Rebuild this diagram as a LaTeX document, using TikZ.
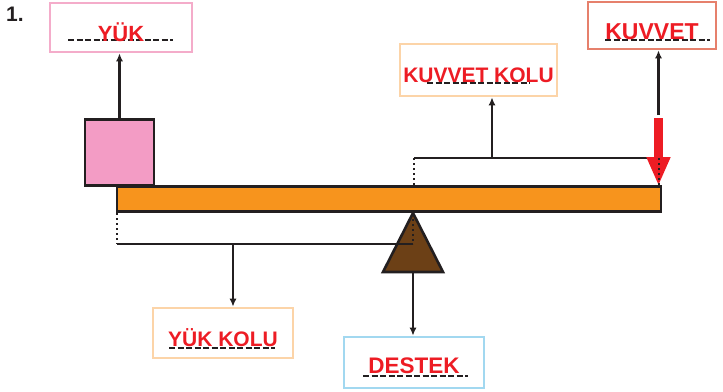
\documentclass[tikz,border=0pt]{standalone}
\usepackage{fontspec}
\setmainfont{Liberation Sans}
\definecolor{tagred}{RGB}{237, 28, 36}
\definecolor{inkblack}{RGB}{35, 31, 32}
\definecolor{borderpink}{RGB}{244, 172, 202}
\definecolor{borderpeach}{RGB}{252, 212, 168}
\definecolor{bordersalmon}{RGB}{230, 128, 108}
\definecolor{borderblue}{RGB}{162, 216, 240}
\definecolor{loadpink}{RGB}{243, 156, 197}
\definecolor{barorange}{RGB}{247, 148, 29}
\definecolor{fulcrumbrown}{RGB}{108, 64, 22}
\usetikzlibrary{arrows.meta, positioning}

\begin{document}
\begin{tikzpicture}[x=1pt, y=-1pt,
    tag/.style 2 args={draw, line width=2.6pt, text=tagred, font=\fontsize{#1}{#1}\selectfont\bfseries,
                text height=#2, text depth=0pt, inner sep=0pt},
    link/.style={inkblack, line width=2.6pt, -{Latex[length=8pt, width=7pt]}},
    rule/.style={inkblack, line width=2.6pt},
    dots/.style={inkblack, line width=2.6pt, dash pattern=on 2pt off 3pt},
    underdash/.style={inkblack, line width=1.8pt, dash pattern=on 6pt off 2.5pt}]
    \useasboundingbox (0,0) rectangle (723,391);

    % Number
    \node[font=\fontsize{21}{22}\selectfont\bfseries, text=inkblack] (num) at (15,14) {1.};

    % Label boxes
    \draw[underdash] (68,40) -- (173,40);
    \node[tag={22pt}{28.5pt}, draw=borderpink, minimum width=142, minimum height=49] (yuk) at (121,27.5) {YÜK};
    \draw[underdash] (427,83) -- (530,83);
    \node[tag={21pt}{24pt}, draw=borderpeach, minimum width=157, minimum height=52] (kolu) at (478.5,70) {KUVVET KOLU};
    \draw[underdash] (605,40) -- (710,40);
    \node[tag={23pt}{28.5pt}, draw=bordersalmon, minimum width=128, minimum height=47] (kuvvet) at (652,25.5) {KUVVET};
    \draw[underdash] (169,348) -- (275,348);
    \node[tag={21pt}{26pt}, draw=borderpeach, minimum width=140, minimum height=50] (yukkolu) at (223,333) {YÜK KOLU};
    \draw[underdash] (363,376) -- (468,376);
    \node[tag={22.5pt}{22pt}, draw=borderblue, minimum width=140, minimum height=51] (destek) at (414,362.5) {DESTEK};

    % Lever, load and fulcrum
    \node[draw=inkblack, fill=barorange, line width=2.6pt, minimum width=544, minimum height=25,
          inner sep=0pt] (bar) at (389,199) {};
    \node[draw=inkblack, fill=loadpink, line width=2.6pt, minimum width=69, minimum height=66,
          inner sep=0pt] (load) at (119.5,152.5) {};
    \filldraw[fill=fulcrumbrown, draw=inkblack, line width=2.6pt, line join=miter]
        (413,213) -- (443,272) -- (383,272) -- cycle;
    \coordinate (base) at (413,272);

    % Arms
    \coordinate (ka) at (414,158);
    \coordinate (kb) at (659,158);
    \coordinate (km) at (492,158);
    \coordinate (ya) at (117,244);
    \coordinate (yb) at (413,244);
    \coordinate (ym) at (233,244);
    \draw[rule] (ka) -- (kb);
    \draw[rule] (ya) -- (yb);

    % Force
    \coordinate (ftop) at (658.5,118);
    \draw[tagred, line width=9pt, -{Triangle[length=29pt, width=22pt]}] (ftop) -- (658.5,186);

    % Dotted guides
    \draw[dots] (ka) -- (414,186);
    \draw[dots] (kb) -- (659,186);
    \draw[dots] (117,213) -- (ya);
    \draw[dots] (413,214) -- (yb);

    % Arrows to labels
    \draw[link] (load.north) -- (load.north |- yuk.south);
    \draw[link] (km) -- (km |- kolu.south);
    \draw[link] ([yshift=3pt]ftop) -- (ftop |- kuvvet.south);
    \draw[link] (ym) -- (ym |- yukkolu.north);
    \draw[link] (base) -- (base |- destek.north);
\end{tikzpicture}
\end{document}
